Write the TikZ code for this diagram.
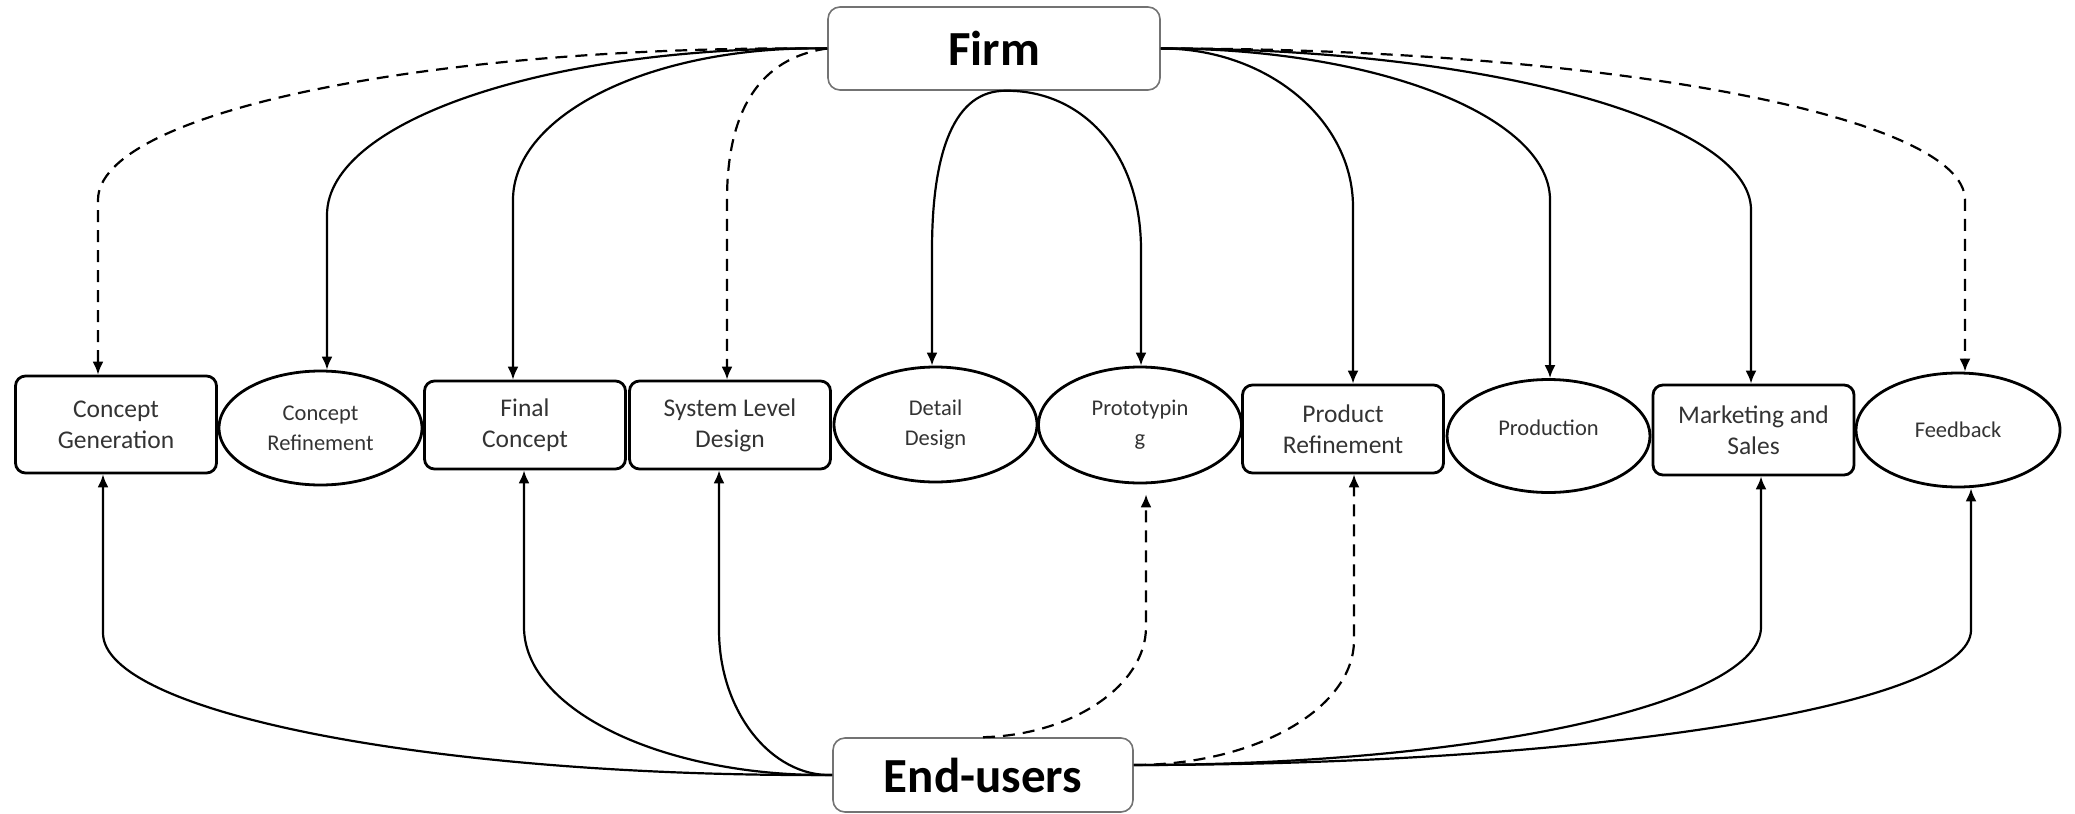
\documentclass[tikz,border=0pt]{standalone}
\usepackage{fontspec}
\setmainfont{Carlito}
\usetikzlibrary{shapes.geometric,arrows.meta,calc}
\definecolor{txt}{HTML}{333333}
\begin{document}
\begin{tikzpicture}[x=0.5pt,y=-0.5pt]
\tikzset{
  proc/.style={draw, line width=1.4pt, rounded corners=5pt, minimum width=100.5pt,
    inner sep=0pt, align=center, text=txt, font=\fontsize{12.75}{15.5}\selectfont},
  oval/.style={ellipse, draw, line width=1.4pt, inner sep=0pt, align=center,
    minimum width=101.5pt, minimum height=57pt, text=txt, font=\fontsize{11.25}{15}\selectfont},
  actor/.style={draw=black!55, line width=0.8pt, rounded corners=6pt, inner sep=0pt,
    font=\fontsize{24.5}{29}\selectfont\bfseries},
  flow/.style={line width=1.1pt, -{Latex[length=6.5pt,width=5.5pt]}},
  fdash/.style={flow, dash pattern=on 6pt off 4pt}
}
\useasboundingbox (0,0) rectangle (2075,813);

% actors
\node[actor, minimum width=166pt, minimum height=41.5pt] (firm) at (994,48.5) {Firm};
\node[actor, minimum width=150pt, minimum height=37pt] (eu) at (983,775) {End-users};

% development stages
\node[proc, minimum height=48.5pt] (cg) at (116,424.5) {Concept\\Generation};
\node[oval] (cr) at (320.5,428) {Concept\\Refinement};
\node[proc, minimum height=44pt] (fc) at (525,425) {Final\\Concept};
\node[proc, minimum height=44pt] (sld) at (730,425) {System Level\\Design};
\node[oval, minimum height=57.5pt] (dd) at (935.5,424.5) {Detail\\Design};
\node[oval, minimum height=58pt] (pt) at (1140,425) {Prototypin\\g};
\node[proc, minimum height=44pt] (pr) at (1343,429) {Product\\Refinement};
\node[oval, minimum height=56.5pt] (prod) at (1548.5,436) {\raisebox{0.5pt}[0pt][0pt]{Production}};
\node[proc, minimum height=45pt] (ms) at (1753.5,430) {Marketing and\\Sales};
\node[oval, minimum width=102pt] (fb) at (1958,430) {Feedback};

% firm to stages
\draw[fdash] (firm.west) .. controls (425,45) and (98,113) .. (98,200) -- ($(cg.north)+(-18,0)$);
\draw[flow] (firm.west) .. controls (552,45) and (327,120) .. (327,215) -- ($(cr.north)+(6.5,0)$);
\draw[flow] (firm.west) .. controls (655,45) and (513,113) .. (513,200) -- ($(fc.north)+(-12,0)$);
\draw[fdash] (firm.west) .. controls (760,58) and (727,110) .. (727,200) -- ($(sld.north)+(-3,0)$);
\draw[flow] ($(firm.south)+(12,0)$) .. controls (955,90) and (932,150) .. (932,250) -- ($(dd.north)+(-3.5,0)$);
\draw[flow] ($(firm.south)+(12,0)$) .. controls (1080,90) and (1141,150) .. (1141,250) -- ($(pt.north)+(1,0)$);
\draw[flow] (firm.east) .. controls (1266,48) and (1353,119) .. (1353,207) -- ($(pr.north)+(10,0)$);
\draw[flow] (firm.east) .. controls (1375,48) and (1550,116) .. (1550,200) -- ($(prod.north)+(1.5,0)$);
\draw[flow] (firm.east) .. controls (1486,48) and (1751,121) .. (1751,210) -- ($(ms.north)+(-2.5,0)$);
\draw[fdash] (firm.east) .. controls (1604,48) and (1965,116) .. (1965,200) -- ($(fb.north)+(7,0)$);

% end-users to stages
\draw[flow] (eu.west) .. controls (430,777) and (103,712) .. (103,633) -- ($(cg.south)+(-13,0)$);
\draw[flow] (eu.west) .. controls (663,777) and (524,710) .. (524,627) -- ($(fc.south)+(-1,0)$);
\draw[flow] (eu.west) .. controls (771,777) and (719,711) .. (719,630) -- ($(sld.south)+(-11,0)$);
\draw[fdash] (eu.north) .. controls (1073,735) and (1146,685) .. (1146,627) -- ($(pt.south)+(6,10)$);
\draw[fdash] ($(eu.east)+(0,-10)$) .. controls (1255,765) and (1354,709) .. (1354,640) -- ($(pr.south)+(11,0)$);
\draw[flow] ($(eu.east)+(0,-10)$) .. controls (1480,765) and (1761,703) .. (1761,627) -- ($(ms.south)+(7.5,0)$);
\draw[flow] ($(eu.east)+(0,-10)$) .. controls (1596,765) and (1971,705) .. (1971,630) -- ($(fb.south)+(13,0)$);
\end{tikzpicture}
\end{document}
